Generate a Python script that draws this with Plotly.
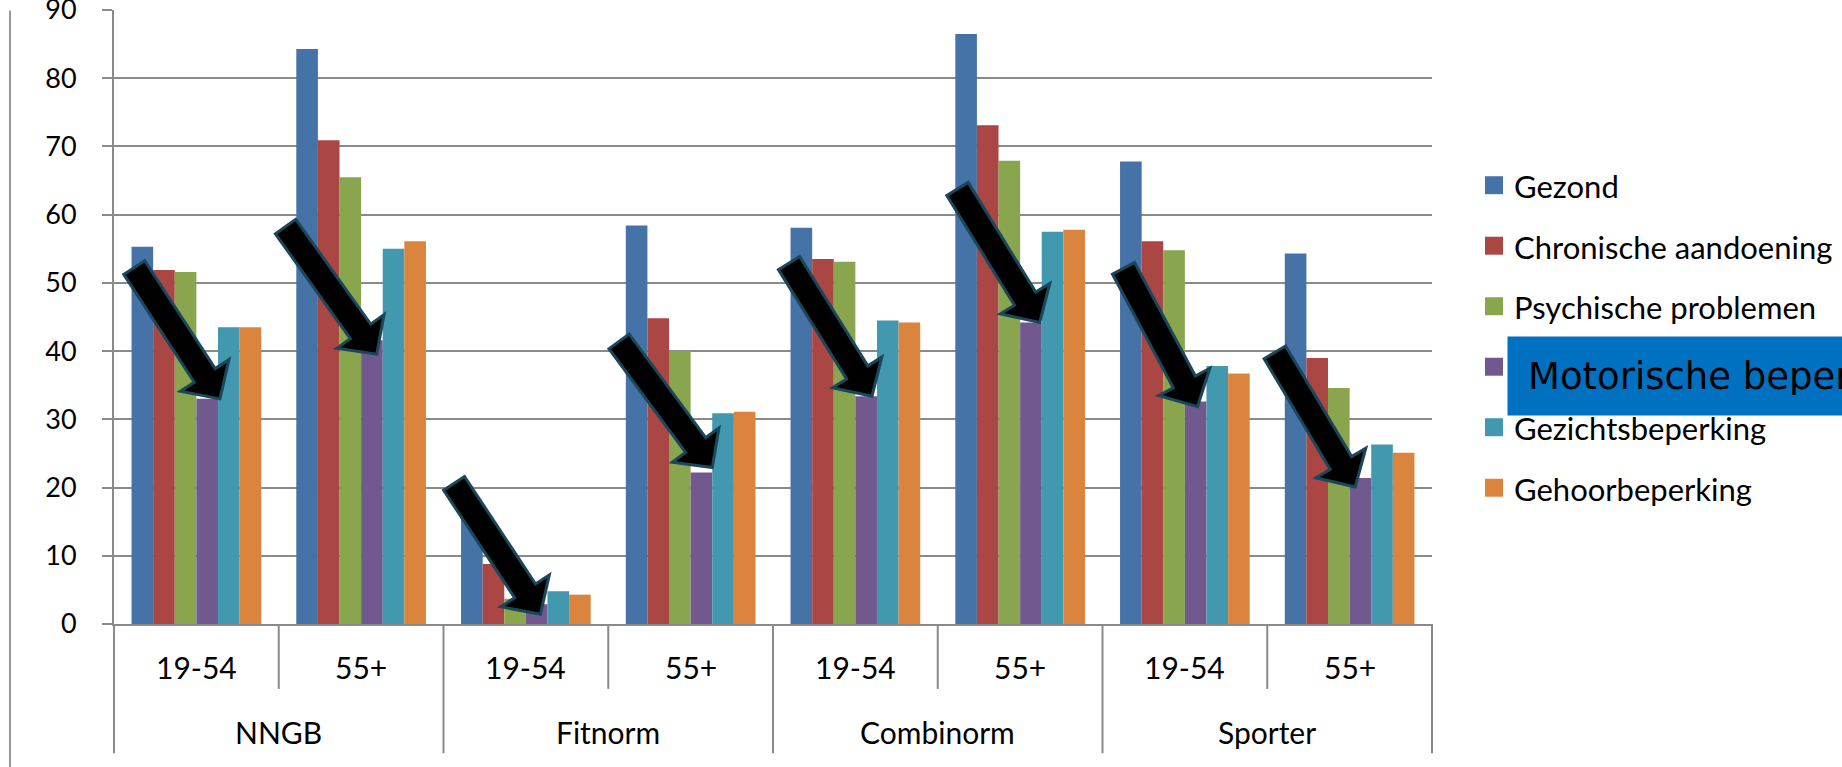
import math
import plotly.graph_objects as go

# ---------------------------------------------------------------- data
groups = ["NNGB", "Fitnorm", "Combinorm", "Sporter"]
age_groups = ["19-54", "55+"]
y_ticks = [0, 10, 20, 30, 40, 50, 60, 70, 80, 90]

series_names = [
    "Gezond",
    "Chronische aandoening",
    "Psychische problemen",
    "Motorische beperking",
    "Gezichtsbeperking",
    "Gehoorbeperking",
]

# percentages per group/age, order: NNGB 19-54, NNGB 55+, Fitnorm 19-54, ...
gezond = [55.3, 84.3, 16.0, 58.4, 58.1, 86.5, 67.8, 54.3]
chronisch = [51.9, 70.9, 8.8, 44.8, 53.5, 73.1, 56.1, 39.0]
psychisch = [51.6, 65.5, 3.7, 40.0, 53.1, 67.9, 54.8, 34.6]
motorisch = [33.0, 41.6, 2.9, 22.2, 33.4, 44.2, 32.6, 21.4]
gezicht = [43.5, 55.0, 4.8, 30.9, 44.5, 57.5, 37.8, 26.3]
gehoor = [43.5, 56.1, 4.3, 31.1, 44.2, 57.8, 36.7, 25.1]

series_values = [gezond, chronisch, psychisch, motorisch, gezicht, gehoor]

# ---------------------------------------------------------------- style
colors = ["#4572A7", "#AA4643", "#89A54E", "#71588F", "#4198AF", "#DB843D"]
FONT = "Lato"
CALLOUT_FONT = "DejaVu Sans"
AXIS_GREY = "#8a8a8a"

W, H = 1842, 767
PL, PR, PT, PB = 114, 1432, 9.5, 624.5          # plot area in pixels
YMAX = y_ticks[-1]
BARGAP = 0.213

x_outer = [g for g in groups for _ in age_groups]
x_inner = [a for _ in groups for a in age_groups]
n_cat = len(x_inner)
cat_w = (PR - PL) / n_cat
bar_w = cat_w * (1 - BARGAP) / len(series_names)


def px_x(px):
    return (px - PL) / (PR - PL)


def px_y(py):
    return (PB - py) / (PB - PT)


def val_to_py(v):
    return PB - v * (PB - PT) / YMAX


fig = go.Figure()
for name, vals, col in zip(series_names, series_values, colors):
    fig.add_trace(
        go.Bar(
            x=[x_outer, x_inner],
            y=vals,
            name=name,
            marker=dict(color=col, line=dict(width=0)),
            showlegend=False,
        )
    )

shapes = []
annotations = []

# thin frame line at the far left
shapes.append(dict(type="line", xref="paper", yref="paper",
                   x0=px_x(10), x1=px_x(10), y0=px_y(10), y1=px_y(H + 5),
                   line=dict(color="#9a9a9a", width=2)))

# category axis: two label rows with separators
for i in range(n_cat + 1):
    xb = PL + i * cat_w
    y_end = 754 if i % 2 == 0 else 689.5
    shapes.append(dict(type="line", xref="paper", yref="paper",
                       x0=px_x(xb), x1=px_x(xb), y0=px_y(PB), y1=px_y(y_end),
                       line=dict(color=AXIS_GREY, width=2)))

for i, lab in enumerate(x_inner):
    annotations.append(dict(xref="paper", yref="paper",
                            x=px_x(PL + (i + 0.5) * cat_w), y=px_y(668),
                            text=lab, showarrow=False, xanchor="center", yanchor="middle",
                            font=dict(family=FONT, size=30, color="black")))
for j, g in enumerate(groups):
    annotations.append(dict(xref="paper", yref="paper",
                            x=px_x(PL + (2 * j + 1) * cat_w), y=px_y(733),
                            text=g, showarrow=False, xanchor="center", yanchor="middle",
                            font=dict(family=FONT, size=30, color="black")))

# arrows pointing at the "Motorische beperking" bar of each group
# (tip nudge dx, dy in px from the bar's top-right corner, direction in degrees)
arrow_nudges = [(2, 0, 56.9), (-6, 14, 54.5), (-7, 10, 56.6), (0, -5, 53.6),
                (-5, 0, 58.1), (-2, 0, 58.4), (-9, 5, 61.9), (-16, 9, 59.2)]
A_LEN, HEAD_LEN, HEAD_HW, SHAFT_HW = 157, 28, 29, 12.5
motor_idx = series_names.index("Motorische beperking")
for i, v in enumerate(series_values[motor_idx]):
    dx, dy, ang = arrow_nudges[i]
    bar_left = PL + i * cat_w + cat_w * BARGAP / 2 + motor_idx * bar_w
    tx, ty = bar_left + bar_w + dx, val_to_py(v) + dy
    ux, uy = math.cos(math.radians(ang)), math.sin(math.radians(ang))
    nx, ny = -uy, ux
    neck = (tx - HEAD_LEN * ux, ty - HEAD_LEN * uy)
    tail = (tx - A_LEN * ux, ty - A_LEN * uy)
    pts = [
        (tail[0] + nx * SHAFT_HW, tail[1] + ny * SHAFT_HW),
        (neck[0] + nx * SHAFT_HW, neck[1] + ny * SHAFT_HW),
        (neck[0] + nx * HEAD_HW, neck[1] + ny * HEAD_HW),
        (tx, ty),
        (neck[0] - nx * HEAD_HW, neck[1] - ny * HEAD_HW),
        (neck[0] - nx * SHAFT_HW, neck[1] - ny * SHAFT_HW),
        (tail[0] - nx * SHAFT_HW, tail[1] - ny * SHAFT_HW),
    ]
    path = "M " + " L ".join(f"{px_x(px):.5f},{px_y(py):.5f}" for px, py in pts) + " Z"
    shapes.append(dict(type="path", xref="paper", yref="paper", path=path,
                       fillcolor="black", line=dict(color="#1B475A", width=3),
                       layer="above"))

# legend: colour swatches with labels; the motor-impairment entry is
# labelled by the highlighted call-out placed over it
LEG_X, LEG_Y0, LEG_STEP, SW = 1485, 185, 60.6, 18
for k, (name, col) in enumerate(zip(series_names, colors)):
    cy = LEG_Y0 + k * LEG_STEP
    shapes.append(dict(type="rect", xref="paper", yref="paper",
                       x0=px_x(LEG_X), x1=px_x(LEG_X + SW),
                       y0=px_y(cy + SW / 2), y1=px_y(cy - SW / 2),
                       fillcolor=col, line=dict(width=0)))
    if k == motor_idx:
        annotations.append(dict(xref="paper", yref="paper", x=px_x(1507), y=px_y(375.9),
                                text=name, showarrow=False,
                                xanchor="left", yanchor="middle", align="left",
                                valign="middle", width=380, height=38, borderpad=20,
                                bgcolor="#0070C0",
                                font=dict(family=CALLOUT_FONT, size=37, color="black")))
    else:
        annotations.append(dict(xref="paper", yref="paper", x=px_x(LEG_X + 27),
                                y=px_y(cy + 1), text=name, showarrow=False,
                                xanchor="left", yanchor="middle",
                                font=dict(family=FONT, size=31, color="black")))

fig.update_layout(
    width=W, height=H,
    margin=dict(l=PL, r=W - PR, t=PT, b=H - PB, pad=0, autoexpand=False),
    paper_bgcolor="white", plot_bgcolor="white",
    barmode="group", bargap=BARGAP, bargroupgap=0,
    font=dict(family=FONT, color="black"),
    shapes=shapes, annotations=annotations,
    showlegend=False,
)
fig.update_xaxes(type="multicategory", showticklabels=False, showdividers=False,
                 ticks="", showgrid=False, zeroline=False,
                 showline=True, linecolor=AXIS_GREY, linewidth=2)
fig.update_yaxes(range=[0, YMAX], tickvals=y_ticks, ticks="outside", ticklen=10,
                 tickwidth=2, tickcolor=AXIS_GREY, showgrid=True, gridcolor=AXIS_GREY,
                 gridwidth=2, showline=True, linecolor=AXIS_GREY, linewidth=2,
                 zeroline=False, ticklabelstandoff=20, ticklabeloverflow="allow",
                 tickfont=dict(family=FONT, size=27, color="black"))

fig.write_html("out.html")
